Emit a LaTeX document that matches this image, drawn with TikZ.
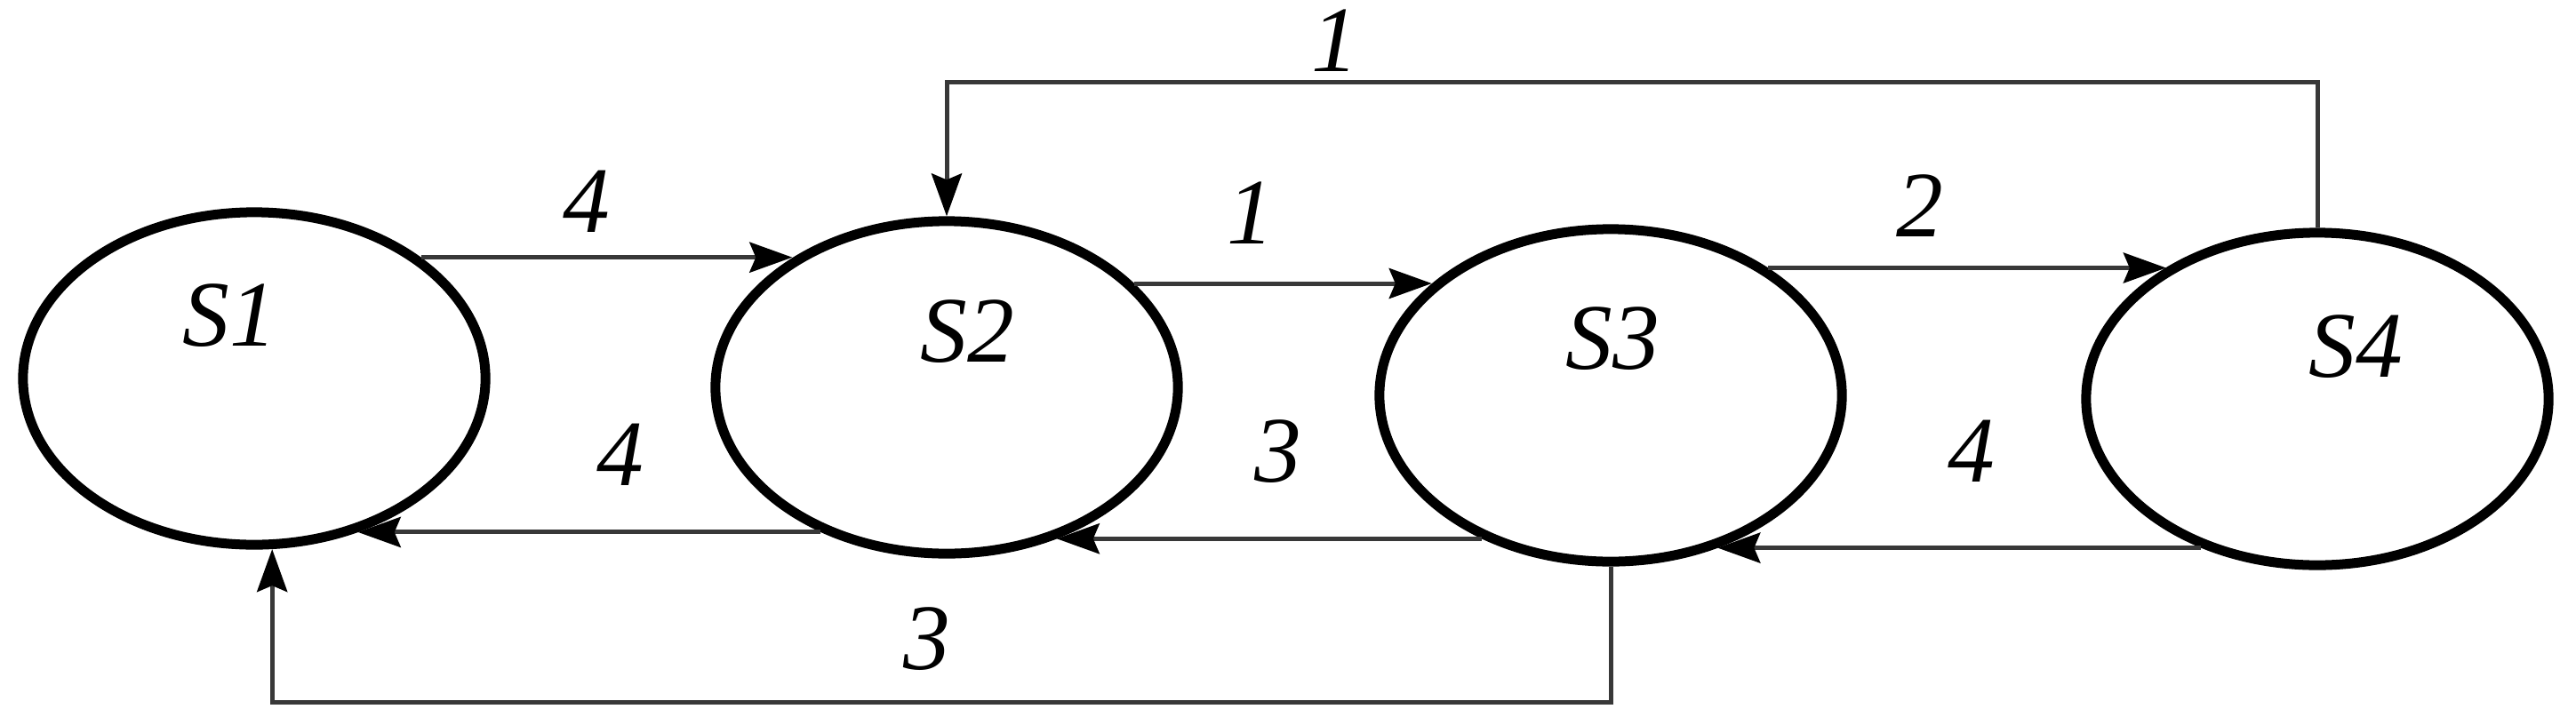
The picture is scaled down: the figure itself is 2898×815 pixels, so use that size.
\documentclass[tikz,border=0pt]{standalone}
\usepackage{fontspec}
\setmainfont{Liberation Serif}
\usetikzlibrary{arrows.meta,shapes.geometric}
\begin{document}
\begin{tikzpicture}[x=0.01cm,y=-0.01cm,
  state/.style={ellipse,draw=black,line width=0.11cm,minimum width=5.2cm,minimum height=3.74cm,inner sep=0pt},
  conn/.style={draw=black!78,line width=0.05cm},
  arr/.style={conn,-{Stealth[length=0.48cm,width=0.34cm,inset=0.07cm,color=black]}},
  lab/.style={font=\fontsize{30}{32}\selectfont\itshape,inner sep=0pt}]
\useasboundingbox (0,0) rectangle (2898,815);
\node[state] (S1) at (286,426) {};
\node[state] (S2) at (1065,436) {};
\node[state] (S3) at (1812,445) {};
\node[state] (S4) at (2607,449) {};
\node[lab] (t1) at (258,355) {S1};
\node[lab] (t2) at (1088,373) {S2};
\node[lab] (t3) at (1814,381) {S3};
\node[lab] (t4) at (2650,390) {S4};
\coordinate (tp) at (0,92);
\coordinate (bt) at (0,790);
\draw[arr] (S1.36) -- (S1.36 -| S2.140);
\draw[arr] (S2.229) -- (S2.229 -| S1.304);
\draw[arr] (S2.29) -- (S2.29 -| S3.148);
\draw[arr] (S3.228) -- (S3.228 -| S2.306);
\draw[arr] (S3.39) -- (S3.39 -| S4.139);
\draw[arr] (S4.232) -- (S4.232 -| S3.305);
\draw[arr] (S4.north) |- (S2.north |- tp) -- (S2.north);
\draw[arr] (S3.south) |- (S1.276 |- bt) -- (S1.276);
\node[lab] (l1) at (660,227) {4};
\node[lab] (l2) at (698,512) {4};
\node[lab] (l3) at (1407,240) {1};
\node[lab] (l4) at (1438,508) {3};
\node[lab] (l5) at (1043,719) {3};
\node[lab] (l6) at (2160,232) {2};
\node[lab] (l7) at (2218,508) {4};
\node[lab] (l8) at (1502,46) {1};
\end{tikzpicture}
\end{document}
